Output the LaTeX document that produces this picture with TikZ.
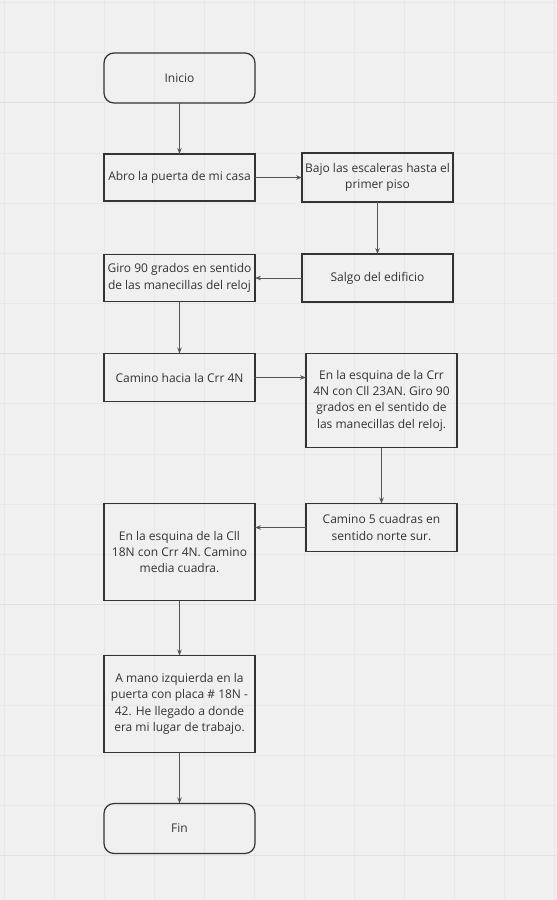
\documentclass[tikz,border=0pt]{standalone}
\usepackage{fontspec}
\setmainfont{Open Sans}
\usetikzlibrary{arrows.meta, positioning}

\definecolor{canvas}{HTML}{F0F0F0}
\definecolor{gridminor}{HTML}{E8E8E8}
\definecolor{gridmajor}{HTML}{E2E2E2}
\definecolor{boxline}{HTML}{333333}
\definecolor{arrline}{HTML}{555555}

\begin{document}
\begin{tikzpicture}[
            x=1pt, y=1pt,
            node distance=51pt and 47pt,
            stepbox/.style={draw=boxline, line width=1.2pt, minimum width=151pt,
                            minimum height=48pt, text centered, inner sep=2pt,
                            outer sep=0pt,
                            font=\fontsize{12}{16.3}\selectfont, text=boxline,
                            align=center},
            terminal/.style={stepbox, rounded corners=10pt, minimum height=50pt},
            tall/.style={stepbox, minimum height=97pt},
            arr/.style={-{Stealth[length=6pt, width=4.5pt]}, line width=0.9pt,
                        draw=arrline}]

            %% ── Background ────────────────────────────────────────────────
            \fill[canvas] (0,-900) rectangle (557,0);
            \useasboundingbox (0,-900) rectangle (557,0);
            \foreach \k in {0,...,11}{
                \pgfmathsetmacro{\gx}{4+50*\k}
                \draw[gridminor, line width=0.5pt] (\gx,-900) -- (\gx,0);}
            \foreach \k in {0,...,17}{
                \pgfmathsetmacro{\gy}{-2.3-50.18*\k}
                \draw[gridminor, line width=0.5pt] (0,\gy) -- (557,\gy);}
            \foreach \k in {2,7,12,17}{
                \pgfmathsetmacro{\gy}{-2.3-50.18*\k}
                \draw[gridmajor, line width=0.8pt] (0,\gy) -- (557,\gy);}

            %% ── Nodes ─────────────────────────────────────────────────────
            \node[terminal] at (179.5,-78)             (inicio) {Inicio};
            \node[stepbox, minimum height=47pt, below=of inicio]
                                                       (abro)   {Abro la puerta de mi casa};
            \node[stepbox, minimum height=49pt, right=of abro]
                                                       (bajo)   {Bajo las escaleras hasta el\\primer piso};
            \node[stepbox, below=52pt of bajo]         (salgo)  {Salgo del edificio};
            \node[stepbox, minimum height=47pt, left=of salgo]
                                                       (giro)   {Giro 90 grados en sentido\\de las manecillas del reloj};
            \node[stepbox, below=52pt of giro]         (camino) {Camino hacia la Crr 4N};
            \node[stepbox, minimum height=94pt, anchor=north west]
                  at ([xshift=51pt]camino.north east) (esqcrr) {En la esquina de la Crr\\4N con Cll 23AN. Giro 90\\grados en el sentido de\\las manecillas del reloj.};
            \node[stepbox, below=56pt of esqcrr]       (cinco)  {Camino 5 cuadras en\\sentido norte sur.};
            \node[tall, anchor=north east]
                  at ([xshift=-51pt]cinco.north west)  (esqcll) {En la esquina de la Cll\\18N con Crr 4N. Camino\\media cuadra.};
            \node[tall, below=55pt of esqcll]          (mano)   {A mano izquierda en la\\puerta con placa \# 18N -\\42. He llegado a donde\\era mi lugar de trabajo.};
            \node[terminal, below=51pt of mano]        (fin)    {Fin};

            %% ── Connectors ────────────────────────────────────────────────
            \draw[arr] (inicio) -- (abro);
            \draw[arr] (abro)   -- (bajo);
            \draw[arr] (bajo)   -- (salgo);
            \draw[arr] (salgo)  -- (giro);
            \draw[arr] (giro)   -- (camino);
            \draw[arr] (camino.east) -- (camino.east -| esqcrr.west);
            \draw[arr] (esqcrr) -- (cinco);
            \draw[arr] (cinco.west) -- (cinco.west -| esqcll.east);
            \draw[arr] (esqcll) -- (mano);
            \draw[arr] (mano)   -- (fin);

        \end{tikzpicture}
\end{document}
